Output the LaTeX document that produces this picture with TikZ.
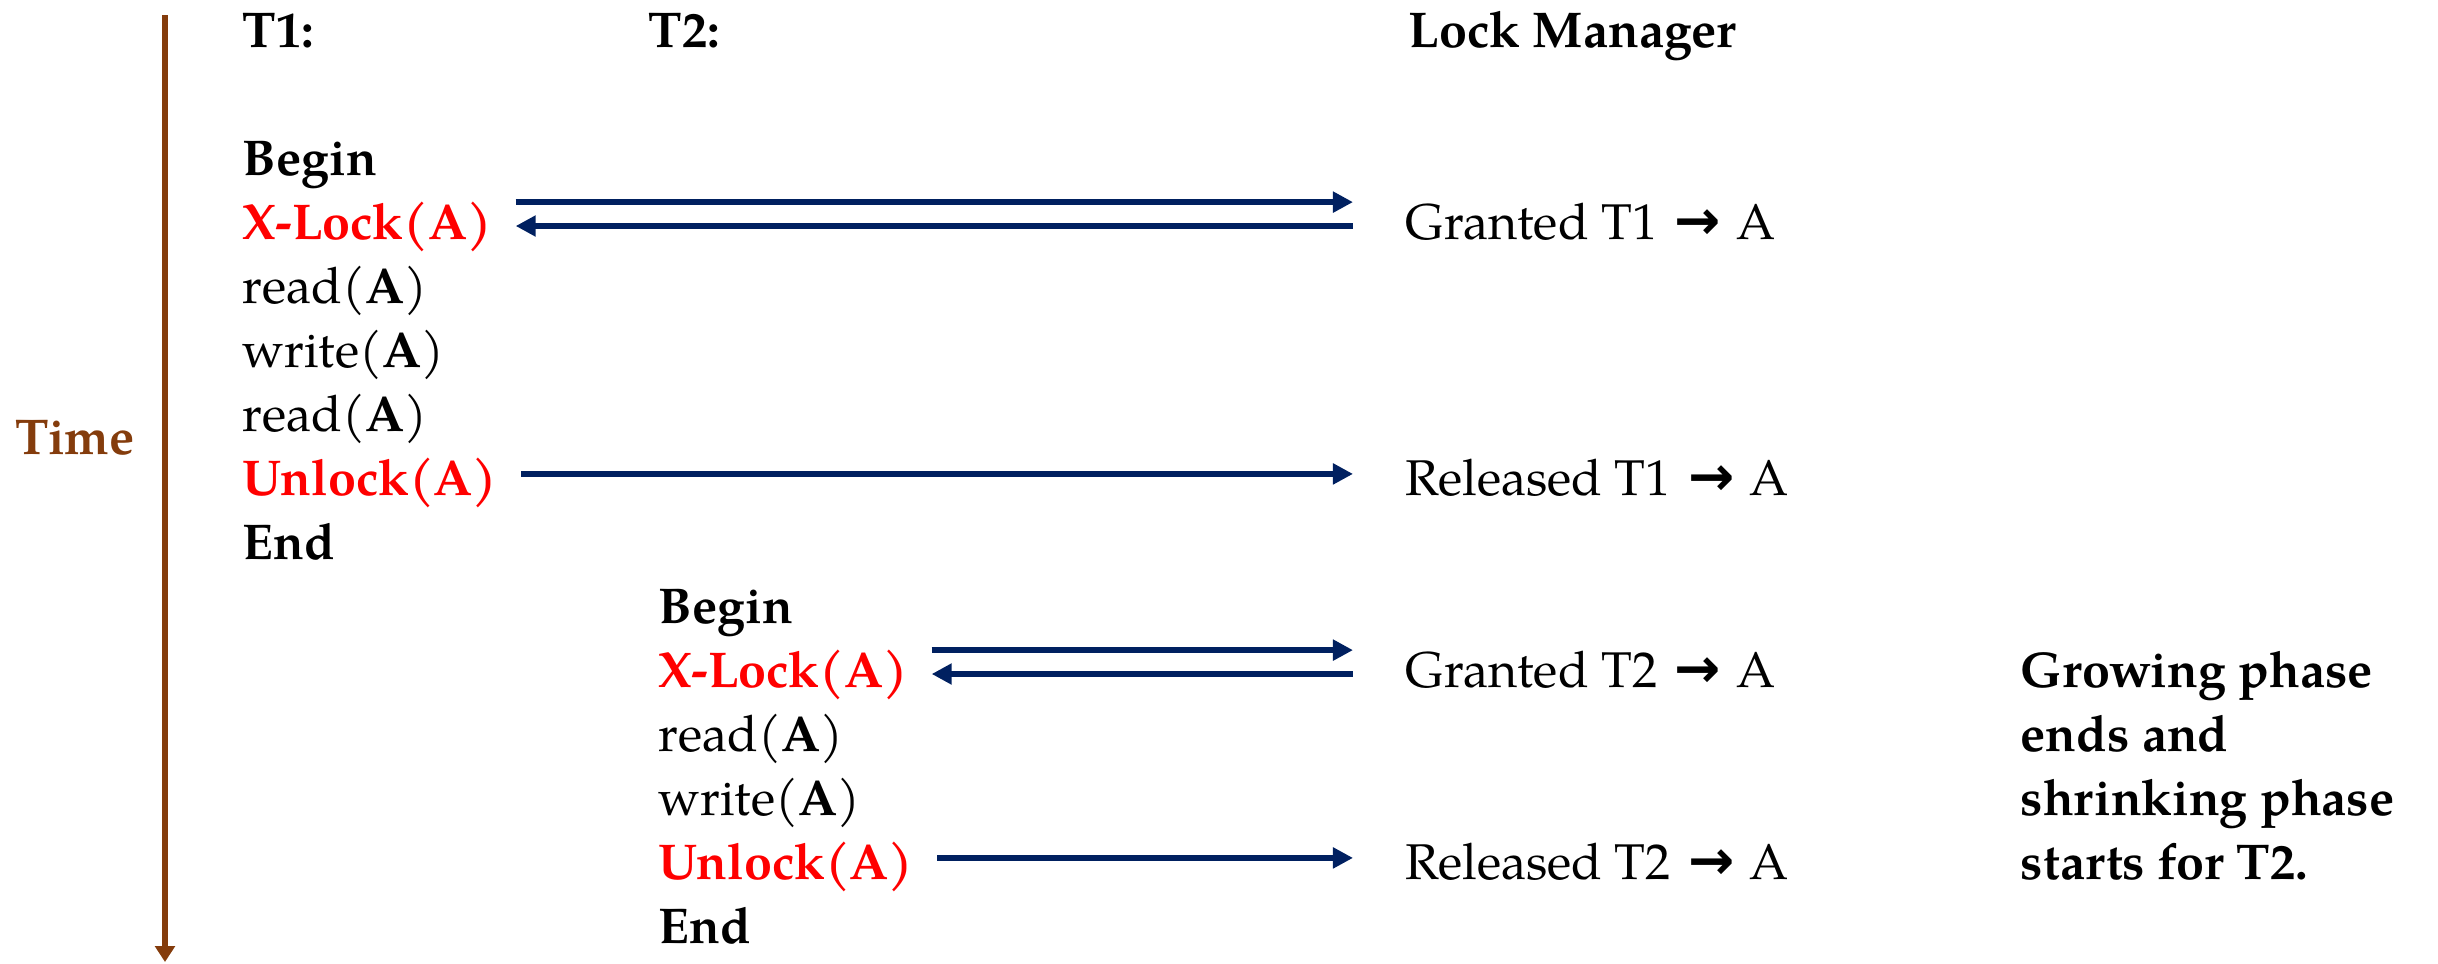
\documentclass[tikz,border=0pt]{standalone}
\usepackage{fontspec}
\setmainfont{TeX Gyre Pagella}
\newfontfamily\arrowfont[Scale=1.1]{DejaVu Sans}
\usepackage{tikz}
\usetikzlibrary{arrows.meta,positioning,calc}
\definecolor{timebrown}{HTML}{843C0C}
\definecolor{msgblue}{HTML}{002060}
\definecolor{lockred}{HTML}{FF0000}
\newcommand{\grantto}{\hspace{0.1em}{\arrowfont\bfseries →}\hspace{0.05em}}

\begin{document}
\begin{tikzpicture}[x=1cm, y=1cm,
    txt/.style={anchor=base west, inner sep=0pt, font=\fontsize{14.3}{18.2}\selectfont},
    hdr/.style={txt, font=\fontsize{14.3}{18.2}\selectfont\bfseries},
    lock/.style={hdr, text=lockred},
    msg/.style={draw=msgblue, line width=1.7pt, -{Triangle[length=5.7pt,width=5.7pt]}, shorten <=0.23cm, shorten >=0.52cm},
    ack/.style={draw=msgblue, line width=1.7pt, {Triangle[length=5.7pt,width=5.7pt]}-, shorten <=0.23cm, shorten >=0.52cm}]
    \useasboundingbox (0,0) rectangle (24.38,-9.63);
    % time axis
    \coordinate (ttop) at (1.65,-0.15);
    \coordinate (tbot) at (1.65,-9.62);
    \draw [draw=timebrown, line width=1.7pt, -{Triangle[length=4.5pt,width=5.5pt]}] (ttop) -- (tbot);
    \node [font=\fontsize{14.3}{18.2}\selectfont\bfseries, text=timebrown] (time) at (0.75,-4.38) {Time};

    % headers
    \node [hdr] (h1) at (2.42,-0.47) {T1:};
    \node [hdr] (h2) at (6.48,-0.47) {T2:};
    \node [hdr] (hlm) at (14.08,-0.47) {Lock Manager};

    % T1
    \node [hdr] (b1) at (2.42,-1.75) {Begin};
    \node [lock] (xl1) at (2.42,-2.39) {X-Lock(A)};
    \node [txt] (r1) at (2.42,-3.03) {read(\textbf{A})};
    \node [txt] (w1) at (2.42,-3.67) {write(\textbf{A})};
    \node [txt] (r1b) at (2.42,-4.31) {read(\textbf{A})};
    \node [lock] (ul1) at (2.42,-4.95) {Unlock(A)};
    \node [hdr] (e1) at (2.42,-5.59) {End};

    % T2
    \node [hdr] (b2) at (6.58,-6.23) {Begin};
    \node [lock] (xl2) at (6.58,-6.87) {X-Lock(A)};
    \node [txt] (r2) at (6.58,-7.51) {read(\textbf{A})};
    \node [txt] (w2) at (6.58,-8.15) {write(\textbf{A})};
    \node [lock] (ul2) at (6.58,-8.79) {Unlock(A)};
    \node [hdr] (e2) at (6.58,-9.43) {End};

    % lock manager
    \node [txt] (g1) at (14.05,-2.39) {Granted T1 \grantto{} A};
    \node [txt] (rel1) at (14.05,-4.95) {Released T1 \grantto{} A};
    \node [txt] (g2) at (14.05,-6.87) {Granted T2 \grantto{} A};
    \node [txt] (rel2) at (14.05,-8.79) {Released T2 \grantto{} A};

    \node [hdr, align=left] (note) at (20.20,-8.79) {Growing phase\\ends and\\shrinking phase\\starts for T2.};

    % requests and replies
    \draw [msg] ([yshift=10.5pt]xl1.base east) -- ([yshift=10.5pt]g1.base west);
    \draw [ack] ([yshift=3.7pt]xl1.base east) -- ([yshift=3.7pt]g1.base west);
    \draw [msg] ([yshift=6pt]ul1.base east) -- ([yshift=6pt]rel1.base west);
    \draw [msg] ([yshift=10.5pt]xl2.base east) -- ([yshift=10.5pt]g2.base west);
    \draw [ack] ([yshift=3.7pt]xl2.base east) -- ([yshift=3.7pt]g2.base west);
    \draw [msg] ([yshift=6pt]ul2.base east) -- ([yshift=6pt]rel2.base west);
\end{tikzpicture}
\end{document}
